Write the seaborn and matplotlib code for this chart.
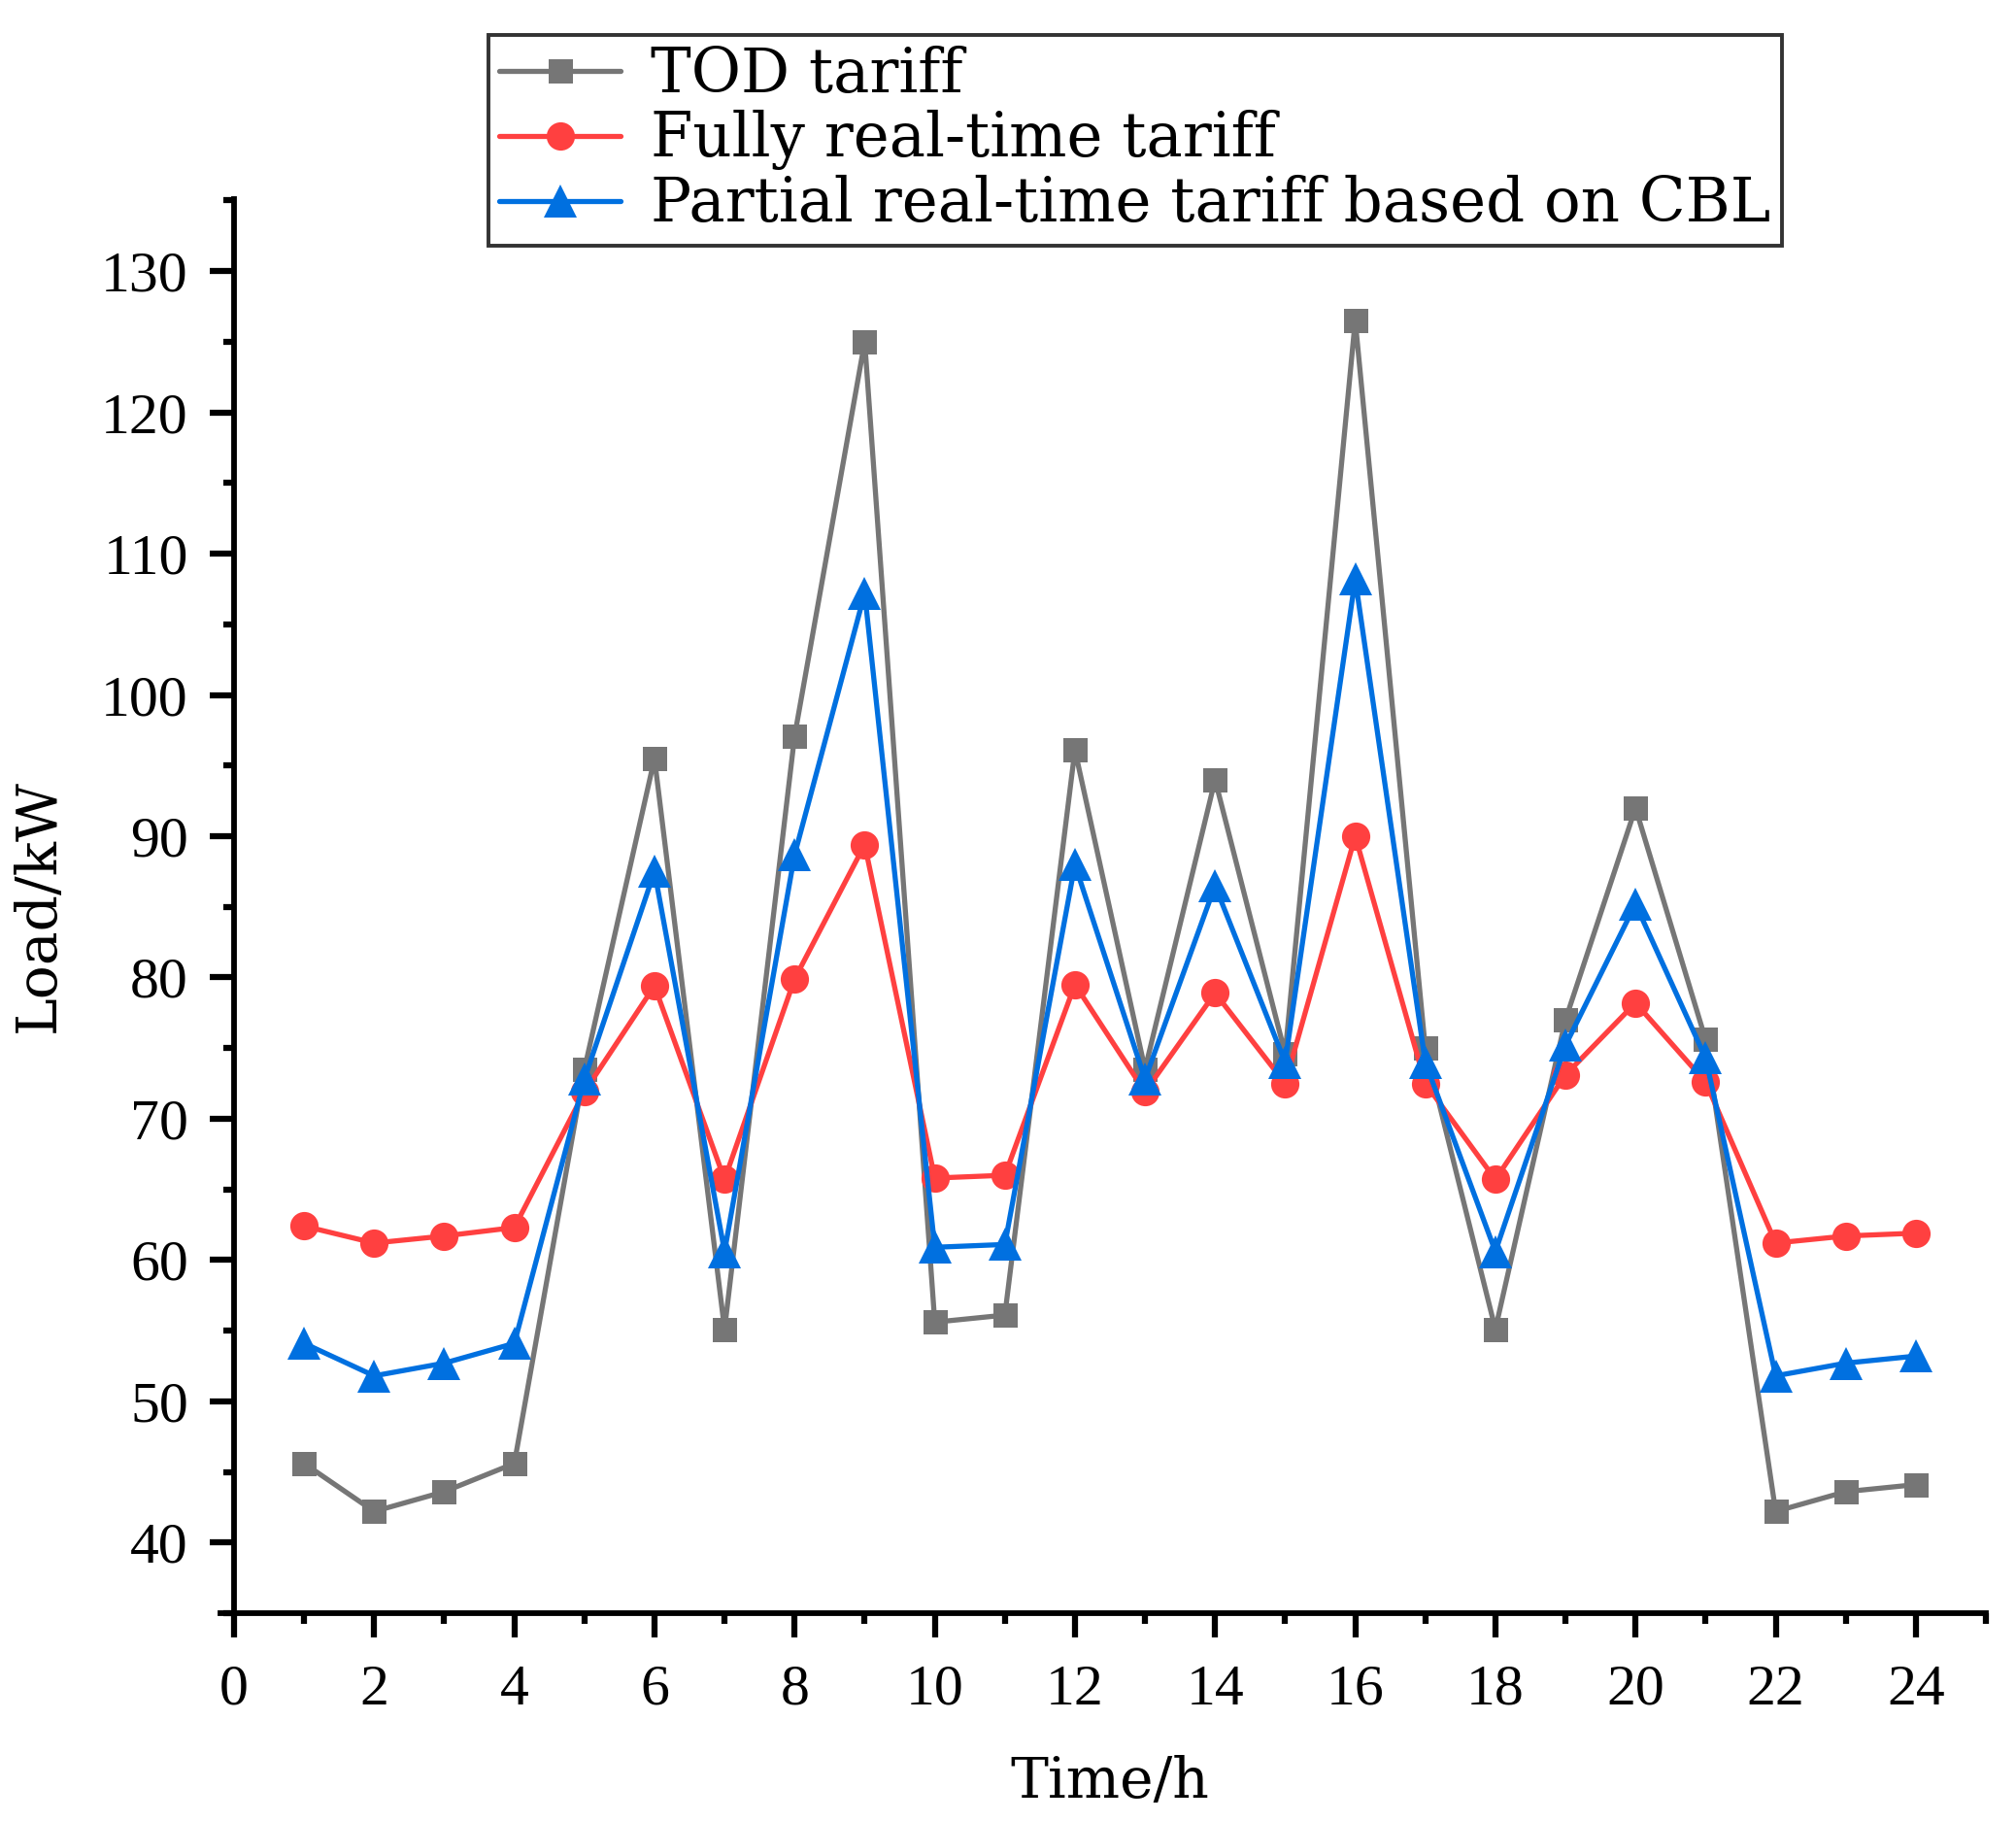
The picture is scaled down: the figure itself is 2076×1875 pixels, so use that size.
import numpy as np
import pandas as pd
import matplotlib
matplotlib.use("Agg")
import matplotlib.pyplot as plt
from matplotlib.ticker import MultipleLocator
from matplotlib.lines import Line2D
import seaborn as sns

hours = list(range(1, 25))
tod = [45.6, 42.2, 43.6, 45.6, 73.5, 95.5, 55.1, 97.1, 125.0, 55.6, 56.1, 96.1,
       73.5, 94.0, 74.6, 126.5, 75.0, 55.1, 77.0, 92.0, 75.6, 42.2, 43.6, 44.1]
fully_rt = [62.4, 61.2, 61.7, 62.3, 71.9, 79.4, 65.7, 79.9, 89.4, 65.8, 66.0, 79.5,
            71.9, 78.9, 72.5, 90.0, 72.5, 65.7, 73.1, 78.2, 72.6, 61.2, 61.7, 61.9]
partial_rt = [54.1, 51.8, 52.7, 54.1, 72.8, 87.5, 60.6, 88.7, 107.2, 60.9, 61.1, 88.0,
              72.8, 86.5, 74.0, 108.2, 74.0, 60.6, 75.2, 85.2, 74.3, 51.8, 52.7, 53.2]
series_names = ["TOD tariff", "Fully real-time tariff", "Partial real-time tariff based on CBL"]

colors = ["#767676", "#FF4040", "#0070E0"]
markers = ["s", "o", "^"]
msizes = [18, 21, 25]

sns.set_theme(style="ticks")
plt.rcParams["font.family"] = ["Liberation Serif", "DejaVu Serif"]
plt.rcParams.update({"text.color": "black", "axes.labelcolor": "black",
                     "xtick.color": "black", "ytick.color": "black",
                     "axes.edgecolor": "black"})

fig = plt.figure(figsize=(20.76, 18.75), dpi=100)
ax = fig.add_axes([241 / 2076, 214 / 1875, (2045 - 241) / 2076, (1670 - 214) / 1875])

data = {series_names[0]: tod, series_names[1]: fully_rt, series_names[2]: partial_rt}
for name, c, m, ms in zip(series_names, colors, markers, msizes):
    df = pd.DataFrame({"Time": hours, "Load": data[name]})
    sns.lineplot(data=df, x="Time", y="Load", ax=ax, color=c, linewidth=3.8,
                 marker=m, markersize=ms, markeredgecolor=c, markeredgewidth=0,
                 legend=False)

ax.set_xlim(0, 25)
ax.set_ylim(35.0, 135.1)
ax.xaxis.set_major_locator(MultipleLocator(2))
ax.xaxis.set_minor_locator(MultipleLocator(1))
ax.yaxis.set_major_locator(MultipleLocator(10))
ax.yaxis.set_minor_locator(MultipleLocator(5))

ax.spines["top"].set_visible(False)
ax.spines["right"].set_visible(False)
for s in ["left", "bottom"]:
    ax.spines[s].set_linewidth(4.2)
    ax.spines[s].set_color("black")
ax.spines["bottom"].set_bounds(-0.2, 25)

ax.tick_params(axis="both", which="major", direction="out", length=18, width=4.5,
               color="black", labelsize=43, labelcolor="black")
ax.tick_params(axis="y", which="major", pad=16)
ax.tick_params(axis="x", which="major", pad=20)
ax.tick_params(axis="both", which="minor", direction="out", length=8, width=4.5,
               color="black")
for lab in ax.get_xticklabels() + ax.get_yticklabels():
    lab.set_fontfamily("Liberation Serif")

ax.set_xlabel("Time/h", fontsize=42, family="DejaVu Serif", labelpad=28, color="black")
ax.set_ylabel("Load/kW", fontsize=42, family="DejaVu Serif", labelpad=26, color="black")
ax.grid(False)

handles = [Line2D([0], [0], color=c, lw=3.8, marker=m, markersize=ms, markeredgewidth=0)
           for c, m, ms in zip(colors, markers, msizes)]
leg = fig.legend(handles, series_names, loc="upper left",
                 bbox_to_anchor=(503 / 2076, 1 - 36 / 1875), borderaxespad=0,
                 prop={"family": "DejaVu Serif", "size": 45}, frameon=True,
                 fancybox=False, edgecolor="black", handlelength=2.0,
                 handletextpad=0.5, labelspacing=0.08, borderpad=0.18)
leg.get_frame().set_linewidth(2.8)
for t in leg.get_texts():
    t.set_color("black")

fig.savefig("out.png", dpi=100, facecolor="white")
